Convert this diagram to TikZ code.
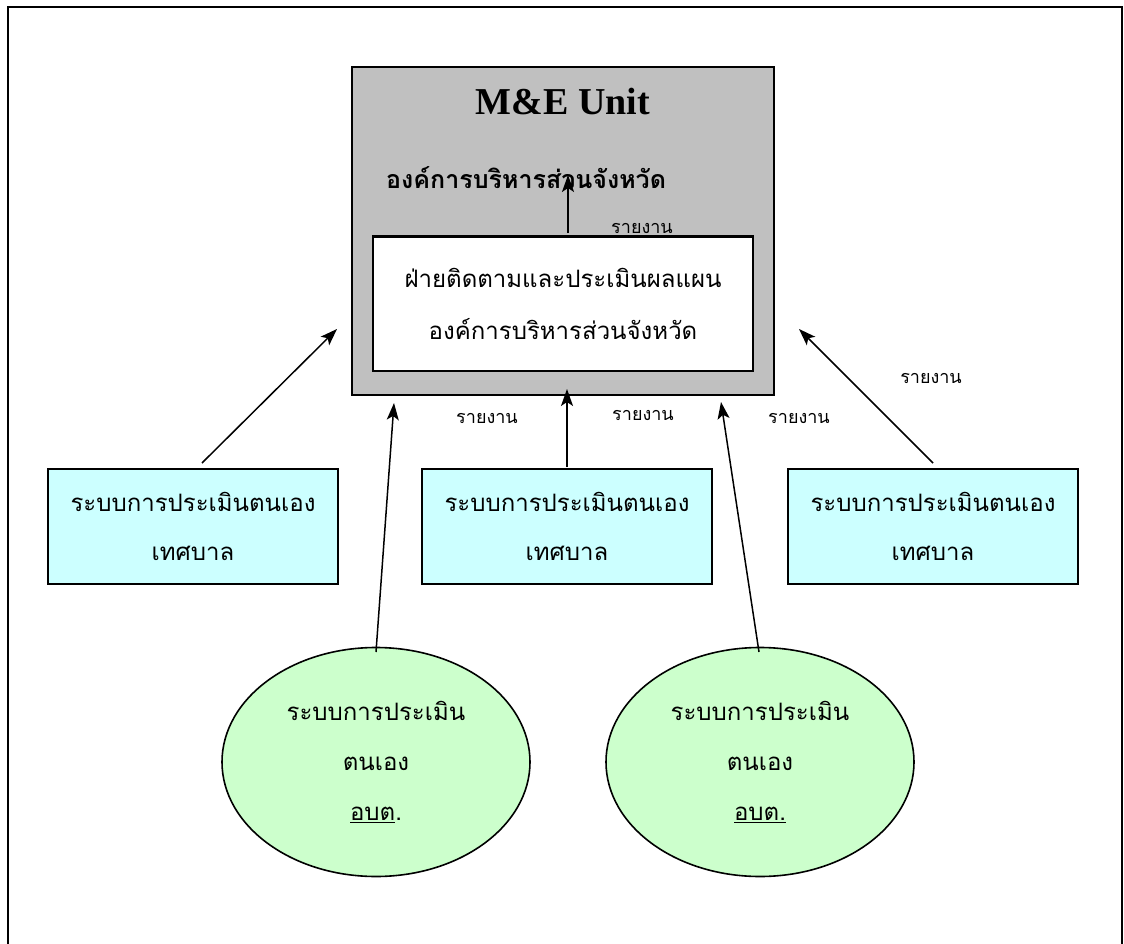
\documentclass[tikz,border=0pt]{standalone}
\usepackage{fontspec}
\setmainfont{Liberation Serif}
\newfontfamily\thai[Script=Thai]{Loma}
\usetikzlibrary{arrows.meta,shapes.geometric}
\definecolor{boxgray}{HTML}{C0C0C0}
\definecolor{boxcyan}{HTML}{CCFFFF}
\definecolor{boxgreen}{HTML}{CCFFCC}
\begin{document}
\begin{tikzpicture}[x=1pt,y=-1pt,
  bordline/.style={draw,line width=2pt},
  cyanbox/.style={draw,line width=1.6pt,fill=boxcyan,minimum width=290pt,minimum height=115pt,inner sep=0pt,
     align=center,font=\thai\fontsize{24}{49}\selectfont},
  greenell/.style={ellipse,draw,line width=1.6pt,fill=boxgreen,minimum width=308pt,minimum height=229pt,inner sep=0pt,
     align=center,font=\thai\fontsize{24}{50}\selectfont},
  reportlbl/.style={font=\thai\fontsize{18}{20}\selectfont,inner sep=0pt},
  arr/.style={-{Stealth[length=17pt,width=12pt,inset=4pt]},line width=1.5pt}]
\useasboundingbox (0,0) rectangle (1124,944);
\draw[line width=2.4pt] (8,960) -- (8,7) -- (1122,7) -- (1122,960);

\node[bordline,fill=boxgray,minimum width=422pt,minimum height=328pt,inner sep=0pt] (me) at (563,231) {};
\node[font=\bfseries\fontsize{38}{42}\selectfont,inner sep=0pt] (title) at (563,102) {M\&E Unit};
\node[font=\thai\bfseries\fontsize{25}{30}\selectfont,anchor=west,inner sep=0pt] (pao) at (386,178) {องค์การบริหารส่วนจังหวัด};
\node[bordline,fill=white,minimum width=380pt,minimum height=134pt,inner sep=0pt,align=center,
  font=\thai\fontsize{24}{52}\selectfont] (unit) at (563,304) {ฝ่ายติดตามและประเมินผลแผน\\องค์การบริหารส่วนจังหวัด};

\node[cyanbox] (lbox) at (193,526.5) {ระบบการประเมินตนเอง\\เทศบาล};
\node[cyanbox] (mbox) at (567,526.5) {ระบบการประเมินตนเอง\\เทศบาล};
\node[cyanbox] (rbox) at (933,526.5) {ระบบการประเมินตนเอง\\เทศบาล};

\node[greenell] (lell) at (376,762) {ระบบการประเมิน\\ตนเอง\\\underline{อบต}.};
\node[greenell] (rell) at (760,762) {ระบบการประเมิน\\ตนเอง\\\underline{อบต.}};

% connectors
\coordinate (t0) at (568,233);
\coordinate (h0) at (568,175);
\draw[arr] (t0) -- (h0);
\coordinate (t1) at (202,463);
\coordinate (h1) at (337,329);
\draw[arr] (t1) -- (h1);
\coordinate (t2) at (376,652);
\coordinate (h2) at (394,403);
\draw[arr] (t2) -- (h2);
\coordinate (t3) at (567,467);
\coordinate (h3) at (567,389);
\draw[arr] (t3) -- (h3);
\coordinate (t4) at (759,652);
\coordinate (h4) at (721,402);
\draw[arr] (t4) -- (h4);
\coordinate (t5) at (933,463);
\coordinate (h5) at (799,329);
\draw[arr] (t5) -- (h5);

\node[reportlbl] (r0) at (642,228) {รายงาน};
\node[reportlbl] (r1) at (487,418) {รายงาน};
\node[reportlbl] (r2) at (643,415) {รายงาน};
\node[reportlbl] (r3) at (799,418) {รายงาน};
\node[reportlbl] (r4) at (931,378) {รายงาน};
% white box top edge redrawn over r0 (label clipped)
\draw[line width=2pt] (unit.north west) -- (unit.north east);
\end{tikzpicture}
\end{document}
